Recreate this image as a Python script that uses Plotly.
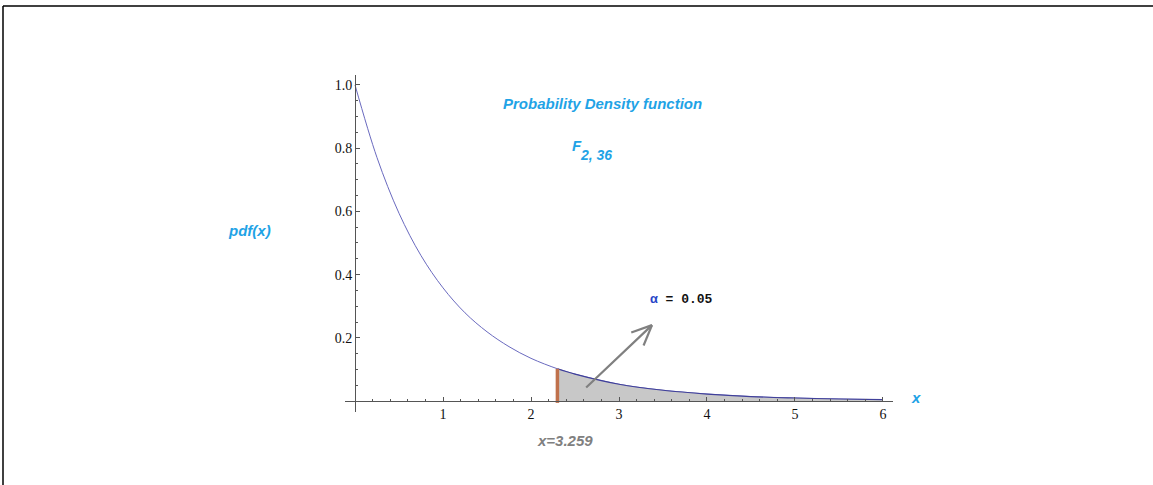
import numpy as np
import plotly.graph_objects as go

# ---- data ----
x_vals = [0.0, 0.25, 0.5, 0.75, 1.0, 1.25, 1.5, 1.75, 2.0, 2.3, 2.5, 3.0, 3.5, 4.0, 4.5, 5.0, 5.5, 6.0]
pdf_vals = [1.0, 0.770, 0.594, 0.460, 0.358, 0.279, 0.219, 0.172, 0.135, 0.102, 0.085, 0.053, 0.034, 0.022, 0.014, 0.0095, 0.0063, 0.0042]
critical_x = 2.3
critical_pdf = 0.102
x_ticks = [1, 2, 3, 4, 5, 6]
y_ticks = [0.2, 0.4, 0.6, 0.8, 1.0]
y_ticktext = ["0.2", "0.4", "0.6", "0.8", "1.0"]
arrow_tail = (2.61, 0.038)
arrow_head = (3.375, 0.24)

# ---- layout geometry ----
W, H = 1153, 485
ml, mr, mt, mb = 345, 260, 75, 73
xr = [-0.114, 6.114]
yr = [-0.0348, 1.0316]
pw, ph = W - ml - mr, H - mt - mb
sx = pw / (xr[1] - xr[0])
sy = ph / (yr[1] - yr[0])

blue_txt = "#1fa3e6"
serif = "Liberation Serif"
sans = "Liberation Sans"

shade_x = [x for x in x_vals if x >= critical_x]
shade_y = [y for x, y in zip(x_vals, pdf_vals) if x >= critical_x]

fig = go.Figure()
fig.add_trace(go.Scatter(x=x_vals, y=pdf_vals, mode="lines",
                         line=dict(color="#6a6abf", width=1, shape="spline"),
                         hoverinfo="skip"))
fig.add_trace(go.Scatter(x=shade_x, y=shade_y, mode="lines", fill="tozeroy",
                         fillcolor="#c8c8c8",
                         line=dict(color="#40409a", width=1.2, shape="spline"),
                         hoverinfo="skip"))
fig.add_trace(go.Scatter(x=[critical_x, critical_x], y=[-0.006, critical_pdf], mode="lines",
                         line=dict(color="#c0714c", width=3.5), hoverinfo="skip"))

# arrow shaft
fig.add_annotation(x=arrow_head[0], y=arrow_head[1], ax=arrow_tail[0], ay=arrow_tail[1],
                   xref="x", yref="y", axref="x", ayref="y", text="",
                   showarrow=True, arrowhead=0, arrowwidth=2.2, arrowcolor="#808080")
# open chevron head, computed in pixel space
dxp = (arrow_tail[0] - arrow_head[0]) * sx
dyp = (arrow_tail[1] - arrow_head[1]) * sy
n = np.hypot(dxp, dyp)
ux, uy = dxp / n, dyp / n
for ang in (np.radians(24), np.radians(-24)):
    rx = ux * np.cos(ang) - uy * np.sin(ang)
    ry = ux * np.sin(ang) + uy * np.cos(ang)
    L = 22
    fig.add_shape(type="line", xref="x", yref="y",
                  x0=arrow_head[0], y0=arrow_head[1],
                  x1=arrow_head[0] + rx * L / sx, y1=arrow_head[1] + ry * L / sy,
                  line=dict(color="#808080", width=2.2))

def px_to_paper(px, py):
    return (px - ml) / pw, (H - mb - py) / ph

def add_text(px, py, text, size, color, family=sans, xanchor="center"):
    xp, yp = px_to_paper(px, py)
    fig.add_annotation(x=xp, y=yp, xref="paper", yref="paper", text=text, showarrow=False,
                       font=dict(family=family, size=size, color=color),
                       xanchor=xanchor, yanchor="middle")

add_text(602, 103, "<b><i>Probability Density function</i></b>", 15, blue_txt)
add_text(577, 145, "<b><i>F</i></b>", 15, blue_txt)
add_text(596, 155, "<b><i>2, 36</i></b>", 14, blue_txt)
add_text(249, 230, "<b><i>pdf(x)</i></b>", 15, blue_txt)
add_text(916, 397, "<b><i>x</i></b>", 15, blue_txt)
add_text(565, 440, "<b><i>x=3.259</i></b>", 15, "#808080")
add_text(681, 299, "<b><span style='color:#2a46c8'>α</span> = 0.05</b>", 13, "#111111",
         family="Liberation Mono")

# outer frame (top and left edges)
x0p, y0p = px_to_paper(3, 6)
x1p, y1p = px_to_paper(W, H)
fig.add_shape(type="line", xref="paper", yref="paper", x0=x0p, y0=y0p, x1=x1p, y1=y0p,
              line=dict(color="black", width=1.5))
fig.add_shape(type="line", xref="paper", yref="paper", x0=x0p, y0=y0p, x1=x0p, y1=y1p,
              line=dict(color="black", width=1.5))

xpos = (0 - yr[0]) / (yr[1] - yr[0])
ypos = (0 - xr[0]) / (xr[1] - xr[0])
axis_col = "#555555"
fig.update_layout(
    width=W, height=H,
    margin=dict(l=ml, r=mr, t=mt, b=mb, autoexpand=False),
    plot_bgcolor="white", paper_bgcolor="white",
    showlegend=False,
    xaxis=dict(range=xr, anchor="free", position=xpos, showgrid=False, zeroline=False,
               showline=True, linecolor=axis_col, linewidth=1,
               tickmode="array", tickvals=x_ticks, ticktext=[str(t) for t in x_ticks],
               ticks="inside", ticklen=4, tickcolor=axis_col, tickwidth=1,
               minor=dict(tickmode="linear", tick0=0, dtick=0.2, ticks="inside",
                          ticklen=2, tickcolor=axis_col),
               tickfont=dict(family=serif, size=14, color="#111111")),
    yaxis=dict(range=yr, anchor="free", position=ypos, showgrid=False, zeroline=False,
               showline=True, linecolor=axis_col, linewidth=1,
               tickmode="array", tickvals=y_ticks, ticktext=y_ticktext,
               ticks="inside", ticklen=4, tickcolor=axis_col, tickwidth=1,
               minor=dict(tickmode="linear", tick0=0, dtick=0.05, ticks="inside",
                          ticklen=2, tickcolor=axis_col),
               tickfont=dict(family=serif, size=14, color="#111111")),
)

fig.write_html("out.html", config={"displayModeBar": False},
               post_script="document.body.style.margin='0';document.body.style.overflow='hidden';")
